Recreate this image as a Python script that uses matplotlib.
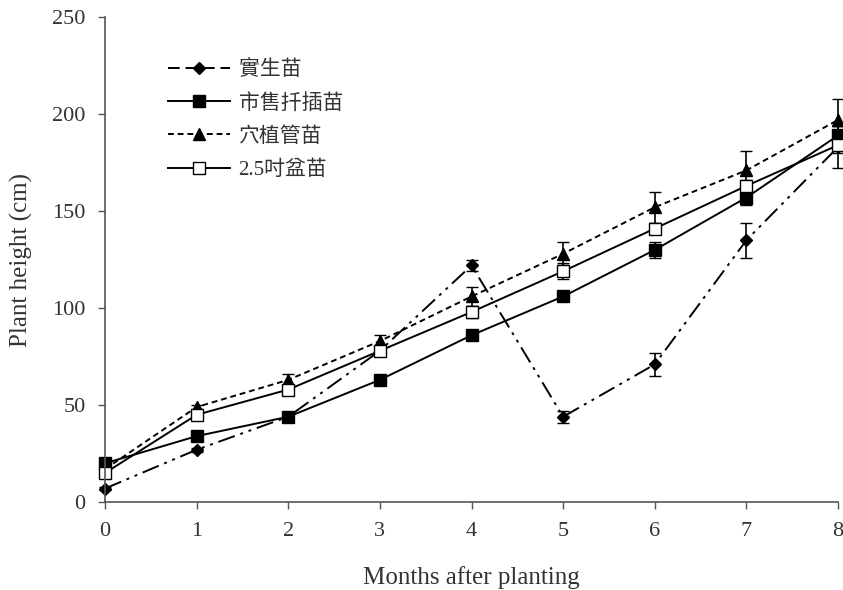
import matplotlib.pyplot as plt
from matplotlib.lines import Line2D

plt.rcParams['font.family'] = ['Liberation Serif', 'Noto Sans CJK TC']

months = [0, 1, 2, 3, 4, 5, 6, 7, 8]

seedling = [7, 27, 44, 78, 122, 44, 71, 135, 183]
seedling_err = [1, 1, 1, 2, 3, 3, 6, 9, 11]

cutting = [20, 34, 44, 63, 86, 106, 130, 157, 189]
cutting_err = [1, 1, 1, 1, 1, 2, 4, 4, 5]

plug = [17, 49, 63, 83, 106, 128, 152, 171, 197]
plug_err = [1, 1, 3, 3, 5, 6, 8, 10, 11]

pot = [15, 45, 58, 78, 98, 119, 141, 163, 184]
pot_err = [1, 1, 2, 2, 3, 4, 3, 3, 4]

labels = ['實生苗', '市售扦插苗', '穴植管苗', '2.5吋盆苗']

dashdotdot = (0, (9, 3, 1.5, 3, 1.5, 3))
shortdash = (0, (3, 2))

fig = plt.figure(figsize=(8.43, 5.90), dpi=100)
ax = fig.add_axes([0.1246, 0.149, 0.8695, 0.822])

common = dict(color='black', lw=1.4, capsize=4, elinewidth=1.2, clip_on=False)
ax.errorbar(months, seedling, yerr=seedling_err, fmt='D', ls=dashdotdot,
            ms=6, mfc='black', mec='black', **common)
ax.errorbar(months, cutting, yerr=cutting_err, fmt='s', ls='-',
            ms=9, mfc='black', mec='black', **common)
ax.errorbar(months, plug, yerr=plug_err, fmt='^', ls=shortdash,
            ms=8, mfc='black', mec='black', **common)
ax.errorbar(months, pot, yerr=pot_err, fmt='s', ls='-',
            ms=9, mfc='white', mec='black', **common)

ax.set_xlim(0, 8)
ax.set_ylim(0, 250)
ax.set_xticks(months)
ax.set_yticks([0, 50, 100, 150, 200, 250])
ax.spines['top'].set_visible(False)
ax.spines['right'].set_visible(False)
for s in ['left', 'bottom']:
    ax.spines[s].set_color('#555555')
    ax.spines[s].set_linewidth(1.2)
ax.tick_params(direction='out', length=5, width=1, colors='#555555',
               labelcolor='#333333', labelsize=16, pad=9)

ax.set_xlabel('Months after planting', fontsize=18, color='#333333', labelpad=18)
ax.set_ylabel('Plant height (cm)', fontsize=18, color='#333333', labelpad=14)

handles = [
    Line2D([], [], color='black', lw=1.4, ls=(0, (6, 3)), marker='D', ms=6,
           mfc='black', mec='black'),
    Line2D([], [], color='black', lw=1.4, ls='-', marker='s', ms=9,
           mfc='black', mec='black'),
    Line2D([], [], color='black', lw=1.4, ls=shortdash, marker='^', ms=8,
           mfc='black', mec='black'),
    Line2D([], [], color='black', lw=1.4, ls='-', marker='s', ms=9,
           mfc='white', mec='black'),
]
leg = ax.legend(handles, labels, loc='upper left', bbox_to_anchor=(0.06, 0.95),
                frameon=False, fontsize=15, handlelength=3.0, labelspacing=0.65,
                handletextpad=0.4)
for t in leg.get_texts():
    t.set_color('#333333')

fig.savefig('out.png', dpi=100)
